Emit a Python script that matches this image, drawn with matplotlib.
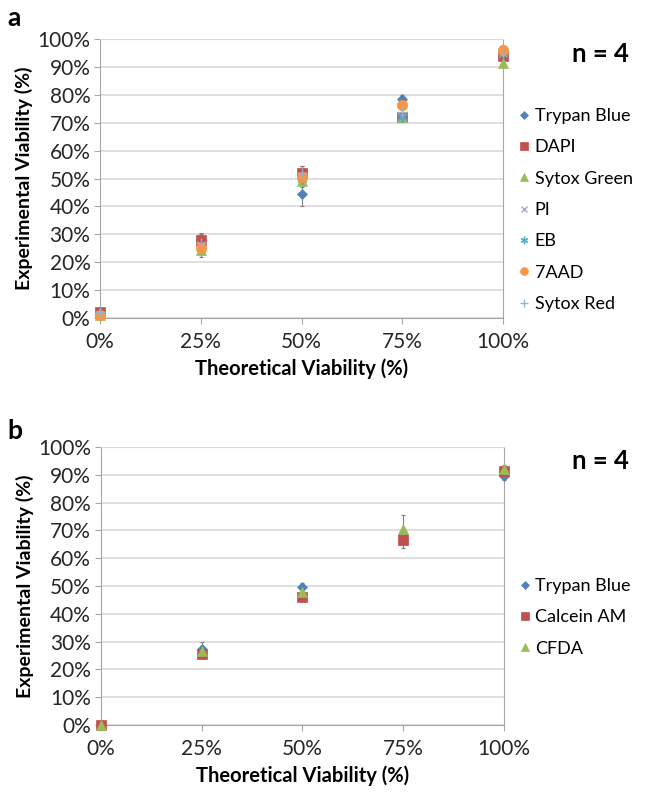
import matplotlib.pyplot as plt
import numpy as np

#-------------------------------------------------------------------------------

#data
theo = [0, 25, 50, 75, 100]

names_a = ["Trypan Blue", "DAPI", "Sytox Green", "PI", "EB", "7AAD", "Sytox Red"]
trypan_a = [2, 27, 44.5, 78.5, 94]
dapi_a = [2, 28, 52, 72, 94]
sytoxg_a = [1, 24.5, 49, 72, 91.5]
pi_a = [1, 26, 51, 72, 95]
eb_a = [1.5, 25, 50, 72, 95]
aad_a = [1, 25, 50.5, 76.5, 96]
sytoxr_a = [2, 27, 52, 74, 95]
err_a = [
    [1, 2, 4.5, 1.5, 1.5],
    [1, 2.5, 2.5, 1.5, 1.5],
    [1, 2.5, 2, 1.5, 1.5],
    [1, 2, 2, 1.5, 1.5],
    [1, 2, 2, 1.5, 1.5],
    [1, 2, 2, 1.5, 1.5],
    [1, 3, 2.5, 1.5, 1.5],
]

names_b = ["Trypan Blue", "Calcein AM", "CFDA"]
trypan_b = [0, 27.5, 49.5, 68.5, 89.5]
calcein_b = [0, 25.5, 46, 66.5, 91.5]
cfda_b = [0, 26.5, 48, 70.5, 92]
err_b = [
    [0.5, 2.5, 1.5, 2, 1.5],
    [0.5, 1, 1, 3, 1],
    [0.5, 2, 1.5, 5, 1.5],
]

#-------------------------------------------------------------------------------

#styles
plt.rcParams['font.family'] = ['Lato', 'DejaVu Sans']

styles_a = [
    dict(marker="D", color="#4F81BD", ms=5.5),
    dict(marker="s", color="#C0504D", ms=7.5),
    dict(marker="^", color="#9BBB59", ms=7.5),
    dict(marker="x", color="#B3A2C7", ms=6, mew=1),
    dict(marker="$\\ast$", color="#4BACC6", ms=7),
    dict(marker="o", color="#F79646", ms=7.5),
    dict(marker="+", color="#95B3D7", ms=7, mew=1),
]
styles_b = styles_a[:3]

fig = plt.figure(figsize=(6.46, 7.96), dpi=100)
ax_a = fig.add_axes([0.155, 0.6005, 0.624, 0.3505])
ax_b = fig.add_axes([0.156, 0.0892, 0.624, 0.3492])


def draw(ax, series, errs, names, styles):
    for vals, e, name, st in zip(series, errs, names, styles):
        ax.errorbar(theo, vals, yerr=e, fmt="none", ecolor="#7F7F7F",
                    elinewidth=0.8, capsize=1.5, capthick=0.8, zorder=2)
        ax.plot(theo, vals, linestyle="none", label=name, zorder=3,
                marker=st["marker"], color=st["color"], ms=st["ms"],
                mew=st.get("mew", 0.5))
    ax.set_xlim(0, 100)
    ax.set_ylim(0, 100)
    ax.set_xticks(theo)
    ax.set_xticklabels(["%d%%" % t for t in theo])
    ax.set_yticks(range(0, 101, 10))
    ax.set_yticklabels(["%d%%" % t for t in range(0, 101, 10)])
    ax.grid(axis="y", color="#D9D9D9", linewidth=1.2)
    ax.set_axisbelow(True)
    for s in ax.spines.values():
        s.set_color("#A6A6A6")
    ax.spines["top"].set_color("#D9D9D9")
    ax.tick_params(axis="both", labelsize=15, color="#A6A6A6",
                   labelcolor="#262626", length=4)
    ax.tick_params(axis="x", pad=6)
    ax.tick_params(axis="y", pad=3)
    ax.set_xlabel("Theoretical Viability (%)", fontsize=14.5,
                  fontweight="bold", labelpad=5)
    ax.set_ylabel("Experimental Viability (%)", fontsize=14,
                  fontweight="bold", labelpad=3)


draw(ax_a, [trypan_a, dapi_a, sytoxg_a, pi_a, eb_a, aad_a, sytoxr_a],
     err_a, names_a, styles_a)
draw(ax_b, [trypan_b, calcein_b, cfda_b], err_b, names_b, styles_b)

for ax in [ax_a, ax_b]:
    for ln in ax.lines:
        ln.set_clip_on(False)

leg_a = ax_a.legend(loc="center left", bbox_to_anchor=(1.0, 0.387),
                    frameon=False, fontsize=13, handlelength=0.5,
                    handletextpad=0.35, labelspacing=0.85, markerscale=0.75)
leg_b = ax_b.legend(loc="center left", bbox_to_anchor=(1.0, 0.387),
                    frameon=False, fontsize=13, handlelength=0.5,
                    handletextpad=0.35, labelspacing=0.85, markerscale=0.75)

fig.text(0.93, 0.932, "n = 4", fontsize=18.5, fontweight="bold",
         ha="center", va="center")
fig.text(0.93, 0.421, "n = 4", fontsize=18.5, fontweight="bold",
         ha="center", va="center")
fig.text(0.012, 0.978, "a", fontsize=19, fontweight="bold",
         ha="left", va="center")
fig.text(0.012, 0.458, "b", fontsize=19, fontweight="bold",
         ha="left", va="center")

plt.savefig('out.png', dpi=100)
